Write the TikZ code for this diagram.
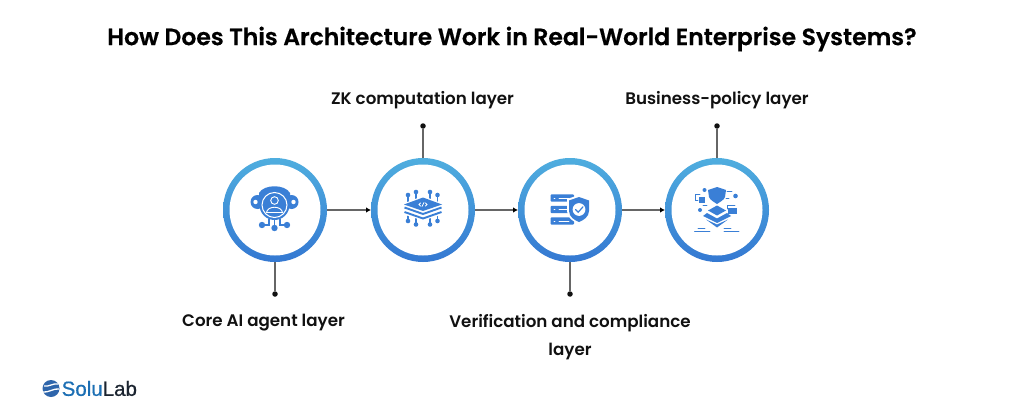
\documentclass[tikz,border=0pt]{standalone}
\usepackage{fontspec}
\setmainfont{Poppins}[BoldFont={Poppins SemiBold}]
\newfontfamily\titlefont{Poppins SemiBold}[FakeBold=0.4]
\newfontfamily\labfont{Poppins SemiBold}
\newfontfamily\logofont{Liberation Sans}[FakeBold=0.6]
\usetikzlibrary{arrows.meta}
\definecolor{ic}{HTML}{3A7FD6}
\definecolor{ringtop}{HTML}{4FAEDF}
\definecolor{ringbot}{HTML}{3478D2}
\definecolor{ink}{HTML}{111111}
\definecolor{conn}{HTML}{666666}
\tikzset{
  ring/.style={circle,minimum size=104pt,inner sep=0pt,outer sep=0pt,top color=ringtop,bottom color=ringbot,middle color=ringtop!50!ringbot},
  hole/.style={circle,minimum size=91pt,inner sep=0pt,fill=white},
  link/.style={draw=conn,line width=1.2pt,-{Latex[length=5pt,width=5.5pt,color=black]}},
  stem/.style={draw=conn,line width=1.2pt},
  dotn/.style={circle,fill=ink,minimum size=5.5pt,inner sep=0pt},
  lab/.style={font=\labfont\fontsize{16.7}{28}\selectfont,text=ink,align=center},
  ln/.style={draw=ic,line width=1.1pt,line cap=round,fill=none},
  lnw/.style={draw=white,line width=1pt,line cap=round,fill=none},
}
\begin{document}
\begin{tikzpicture}[x=1pt,y=-1pt]
\useasboundingbox (0,0) rectangle (1024,417);
\fill[white] (0,0) rectangle (1024,417);
\node[font=\titlefont\fontsize{23.5}{28}\selectfont,text=black] (title) at (512,39) {How Does This Architecture Work in Real-World Enterprise Systems?};
% rings
\node[ring] (a) at (275,210) {};
\node[ring] (b) at (423,210) {};
\node[ring] (c) at (570,210) {};
\node[ring] (d) at (717,210) {};
\foreach \n in {a,b,c,d} \node[hole] (h\n) at (\n) {};
% connectors
\draw[link] (a) -- (b);
\draw[link] (b) -- (c);
\draw[link] (c) -- (d);
\node[dotn] (da) at (275,294) {};
\node[dotn] (db) at (423,126) {};
\node[dotn] (dc) at (570,294) {};
\node[dotn] (dd) at (717,126) {};
\draw[stem] (a) -- (da);
\draw[stem] (b) -- (db);
\draw[stem] (c) -- (dc);
\draw[stem] (d) -- (dd);
% labels
\node[lab] (la) at (263.5,323) {Core AI agent layer};
\node[lab] (lb) at (422.5,100) {ZK computation layer};
\node[lab] (lc) at (570,337) {Verification and compliance\\layer};
\node[lab] (ld) at (717,100) {Business-policy layer};
% icon 1
\fill[ic] (257.5,202) circle (7); \fill[ic] (291.5,202) circle (7);
\fill[white] (255.5,202) circle (2.2); \fill[white] (293.5,202) circle (2.2);
\fill[ic] (259,193) .. controls (264,184) and (285,184) .. (290,193) -- (290,200) -- (259,200) -- cycle;
\fill[ic] (274.5,205) circle (15);
\draw[white,line width=1pt] (274.5,205) circle (12.5);
\draw[white,line width=.9pt] (274.5,200.5) circle (3.8);
\draw[white,line width=.9pt] (266.5,212.5) .. controls (267.5,205.5) and (281.5,205.5) .. (282.5,212.5) -- cycle;
\draw[ln,line width=1.3pt] (269,219) -- (269,225) -- (262,225);
\draw[ln,line width=1.3pt] (274.5,219) -- (274.5,228);
\draw[ln,line width=1.3pt] (280,219) -- (280,225) -- (287,225);
\fill[ic] (262,225) circle (3.2); \fill[ic] (274.5,228) circle (3.2); \fill[ic] (287,225) circle (3.2);
% icon 2
\foreach \x/\y in {408/195,416/192,430/192,437.5/195}{
  \draw[ln,line width=1.1pt] (\x,\y) -- (\x,204); \fill[ic] (\x,\y) circle (2.3);}
\foreach \x/\y in {408/221,416/224.5,430/224.5,437.5/221}{
  \draw[ln,line width=1.1pt] (\x,\y) -- (\x,214); \fill[ic] (\x,\y) circle (2.3);}
\fill[white] (402,204) -- (423,196) -- (444,204) -- (444,214) -- (423,220.5) -- (402,214) -- cycle;
\fill[ic] (404,204.5) -- (423,197.5) -- (442,204.5) -- (423,211) -- cycle;
\draw[lnw,line width=.8pt] (420.5,206) -- (419,204.5) -- (420.5,203) (425.5,206) -- (427,204.5) -- (425.5,203) (424,202.5) -- (422,206.5);
\draw[ic,line width=1.9pt] (404.5,207.5) -- (423,214) -- (441.5,207.5);
\draw[ic,line width=1.9pt] (404.5,212) -- (423,218.5) -- (441.5,212);
% icon 3
\foreach \y in {198,209.5,221}{
  \fill[ic,rounded corners=1pt] (550.5,\y-3.7) rectangle (574,\y+3.7);
  \draw[lnw,line width=.9pt] (554,\y) -- (555,\y) (559,\y) -- (569,\y);}
\fill[white] (579,195) -- (591,199) -- (591,211) .. controls (591,218) and (584,222) .. (579,224) .. controls (574,222) and (567,218) .. (567,211) -- (567,199) -- cycle;
\fill[ic] (579,197) -- (589,200.5) -- (589,211) .. controls (589,217) and (583,220.5) .. (579,222) .. controls (575,220.5) and (569,217) .. (569,211) -- (569,200.5) -- cycle;
\fill[white] (579,209.5) circle (6.4);
\draw[ic,line width=1.2pt,line cap=round] (575.5,209.5) -- (578.2,212.2) -- (583,206.8);
% icon 4
\fill[ic] (708,190) -- (717,187) -- (726,190) -- (725,197) .. controls (724,200) and (720,202) .. (717,204) .. controls (714,202) and (710,200) .. (709,197) -- cycle;
\fill[ic] (704.5,190) circle (2); \fill[ic] (735.5,196) circle (2.3); \fill[ic] (700,210) circle (2);
\draw[ln,line width=.8pt] (700,194) -- (695.5,194) -- (695.5,200.5) -- (698,200.5);
\fill[ic] (699,197) rectangle (705,203);
\draw[ln,line width=.8pt] (727,191) -- (732,191) (726,198) -- (729,198);
\draw[ln,line width=.8pt] (735,205) -- (727.5,205) -- (727.5,209);
\fill[ic] (728,207.5) rectangle (737,213.5);
\draw[ln,line width=.8pt] (703,205.5) -- (707,205.5);
\fill[ic] (717,205.5) -- (726,210.5) -- (717,215.5) -- (708,210.5) -- cycle;
\fill[ic] (707,213) -- (717,218.5) -- (727,213) -- (731,216) -- (717,223) -- (703,216) -- cycle;
\fill[ic] (706,219.5) -- (717,224.5) -- (728,219.5) -- (717,227.5) -- cycle;
\draw[ln,line width=.9pt] (694.5,231) -- (710,231) (698,228) -- (705,228) (724,231) -- (739,231) (724,228) -- (731,228);
% logo
\fill[ic!80!black] (51,388.5) circle (8.5);
\draw[white,line width=1.3pt] (43,392) .. controls (48,393) and (54,388) .. (59,389);
\draw[white,line width=1.3pt] (44,386) .. controls (49,387) and (53,383) .. (58,384);
\node[font=\logofont\fontsize{20.5}{24}\selectfont,anchor=west,inner sep=0pt] (logo) at (61.5,388.5) {\textcolor[HTML]{1C6FB4}{Solu}\textcolor[HTML]{1B2430}{Lab}};
\end{tikzpicture}
\end{document}
